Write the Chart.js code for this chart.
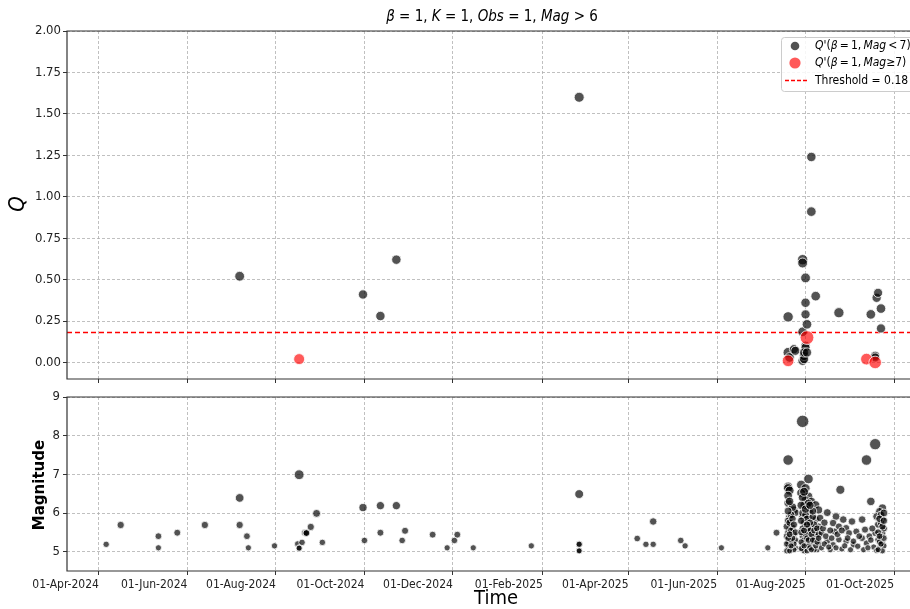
<!DOCTYPE html>
<html>
<head>
<meta charset="utf-8">
<script src="https://cdn.jsdelivr.net/npm/chart.js@4.4.1/dist/chart.umd.min.js"></script>
<style>
  html, body { margin: 0; padding: 0; background: #fff; }
  #wrap { position: relative; width: 910px; height: 609px; overflow: hidden; background: #fff; }
  canvas { position: absolute; left: 0; }
  #qChart { top: 0; }
  #magChart { top: 385px; }
</style>
</head>
<body>
<div id="wrap">
  <canvas id="qChart" width="910" height="385"></canvas>
  <canvas id="magChart" width="910" height="224"></canvas>
</div>
<script>
// ---- data ----
const tickDates = ['2024-04-01', '2024-06-01', '2024-08-01', '2024-10-01', '2024-12-01',
                   '2025-02-01', '2025-04-01', '2025-06-01', '2025-08-01', '2025-10-01'];
const qTicks = [0, 0.25, 0.5, 0.75, 1.0, 1.25, 1.5, 1.75, 2.0];
const magTicks = [5, 6, 7, 8, 9];
const threshold = 0.18;

// [date, Q, magnitude]  events with Mag < 7
const qLow = [
  ['2024-07-07', 0.52, 6.39], ['2024-09-30', 0.41, 6.14], ['2024-10-12', 0.28, 6.19],
  ['2024-10-23', 0.62, 6.19], ['2025-02-26', 1.60, 6.49],
  ['2025-07-20', 0.275, 6.66], ['2025-07-20', 0.06, 6.56], ['2025-07-21', 0.03, 6.30],
  ['2025-07-24', 0.08, 6.10], ['2025-07-25', 0.07, 6.05],
  ['2025-07-30', 0.62, 6.66], ['2025-07-30', 0.60, 6.44], ['2025-07-30', 0.185, 6.30],
  ['2025-07-30', 0.01, 6.20], ['2025-07-31', 0.04, 6.25], ['2025-07-31', 0.02, 6.10],
  ['2025-08-01', 0.10, 6.10], ['2025-08-01', 0.09, 6.00], ['2025-07-31', 0.06, 6.05],
  ['2025-08-01', 0.36, 6.20], ['2025-08-01', 0.29, 6.10], ['2025-08-01', 0.51, 6.40],
  ['2025-08-02', 0.23, 6.30], ['2025-08-02', 0.06, 6.10],
  ['2025-08-05', 1.24, 6.20], ['2025-08-05', 0.91, 6.30], ['2025-08-08', 0.40, 6.30],
  ['2025-08-24', 0.30, 6.60], ['2025-09-15', 0.29, 6.30],
  ['2025-09-18', 0.04, 6.10], ['2025-09-18', 0.03, 6.00],
  ['2025-09-19', 0.39, 6.13], ['2025-09-20', 0.42, 6.04],
  ['2025-09-22', 0.325, 6.28], ['2025-09-22', 0.205, 6.10]
];
// events with Mag >= 7
const qHigh = [
  ['2024-08-17', 0.02, 7.00], ['2025-07-20', 0.01, 7.37], ['2025-08-02', 0.15, 8.37],
  ['2025-09-12', 0.02, 7.37], ['2025-09-18', 0.00, 7.78]
];

// [date, magnitude]
const magEvents = [
  ['2024-04-06', 5.19], ['2024-04-16', 5.69], ['2024-05-12', 5.40], ['2024-05-12', 5.10],
  ['2024-05-25', 5.49], ['2024-06-13', 5.69], ['2024-07-07', 6.39], ['2024-07-07', 5.69],
  ['2024-07-12', 5.40], ['2024-07-13', 5.10], ['2024-07-31', 5.15],
  ['2024-08-17', 6.99], ['2024-08-16', 5.20], ['2024-08-19', 5.24],
  ['2024-08-17', 5.10], ['2024-08-17', 5.09], ['2024-08-21', 5.49],
  ['2024-08-22', 5.49], ['2024-08-22', 5.48], ['2024-08-25', 5.64], ['2024-08-29', 5.99],
  ['2024-09-02', 5.24], ['2024-09-30', 6.14], ['2024-10-01', 5.29], ['2024-10-12', 6.19],
  ['2024-10-12', 5.49], ['2024-10-23', 6.19], ['2024-10-27', 5.29], ['2024-10-29', 5.54],
  ['2024-11-17', 5.44], ['2024-11-27', 5.10], ['2024-12-02', 5.29], ['2024-12-04', 5.44],
  ['2024-12-15', 5.10], ['2025-01-24', 5.15], ['2025-02-26', 6.49],
  ['2025-02-26', 5.20], ['2025-02-26', 5.19], ['2025-02-26', 5.03], ['2025-02-26', 5.02],
  ['2025-04-07', 5.34], ['2025-04-13', 5.19], ['2025-04-18', 5.78], ['2025-04-18', 5.19],
  ['2025-05-07', 5.29], ['2025-05-10', 5.15], ['2025-06-04', 5.10], ['2025-07-06', 5.10],
  ['2025-07-12', 5.49],
  // late-July burst
  ['2025-07-20', 7.37], ['2025-07-30', 8.37], ['2025-08-03', 6.88], ['2025-08-25', 6.60],
  ['2025-09-12', 7.37], ['2025-09-18', 7.78], ['2025-09-15', 6.30],
  ['2025-07-20', 6.68], ['2025-07-20', 6.64], ['2025-07-21', 6.58], ['2025-07-20', 6.26],
  ['2025-07-24', 6.08], ['2025-07-25', 6.01], ['2025-07-21', 5.91], ['2025-07-22', 5.74],
  ['2025-07-21', 5.59], ['2025-07-24', 5.44], ['2025-07-21', 5.35], ['2025-07-24', 5.27],
  ['2025-07-21', 5.18], ['2025-07-25', 5.10], ['2025-07-22', 5.05],
  ['2025-07-20', 5.80], ['2025-07-20', 5.50], ['2025-07-20', 5.25], ['2025-07-20', 5.12],
  ['2025-07-19', 5.02], ['2025-07-22', 5.45], ['2025-07-23', 5.15], ['2025-07-23', 5.62],
  ['2025-07-24', 5.05], ['2025-07-25', 5.30], ['2025-07-22', 5.95], ['2025-07-23', 6.15],
  ['2025-07-20', 6.05], ['2025-07-21', 5.02], ['2025-07-24', 5.20],
  ['2025-07-19', 5.40], ['2025-07-19', 5.65], ['2025-07-19', 5.20], ['2025-07-20', 6.45],
  ['2025-07-21', 6.30], ['2025-07-21', 5.75], ['2025-07-22', 5.30], ['2025-07-22', 5.55],
  ['2025-07-23', 5.35], ['2025-07-23', 5.85], ['2025-07-24', 5.70], ['2025-07-25', 5.50],
  ['2025-07-20', 5.35], ['2025-07-21', 5.45], ['2025-07-22', 5.15],
  ['2025-07-29', 6.73], ['2025-08-01', 6.64], ['2025-07-29', 6.52], ['2025-08-03', 6.43],
  ['2025-08-01', 6.34], ['2025-08-05', 6.30], ['2025-08-08', 6.21], ['2025-08-02', 6.17],
  ['2025-08-10', 6.08], ['2025-08-04', 6.01], ['2025-07-30', 5.91], ['2025-08-03', 5.87],
  ['2025-08-08', 5.83], ['2025-08-01', 5.70], ['2025-08-05', 5.67], ['2025-08-10', 5.65],
  ['2025-08-02', 5.52], ['2025-08-06', 5.48], ['2025-07-30', 5.40], ['2025-08-04', 5.35],
  ['2025-08-09', 5.40], ['2025-08-01', 5.24], ['2025-08-05', 5.22], ['2025-08-10', 5.21],
  ['2025-08-02', 5.12], ['2025-08-06', 5.10], ['2025-07-30', 5.05], ['2025-08-09', 5.05],
  ['2025-07-30', 6.40], ['2025-07-31', 6.20], ['2025-07-30', 6.00], ['2025-07-31', 5.75],
  ['2025-07-30', 5.60], ['2025-07-31', 5.30], ['2025-07-30', 5.18], ['2025-07-31', 5.02],
  ['2025-08-01', 5.95], ['2025-08-02', 5.85], ['2025-08-03', 5.60], ['2025-08-03', 5.15],
  ['2025-08-04', 5.55], ['2025-08-06', 5.90], ['2025-08-07', 5.30], ['2025-08-07', 5.05],
  ['2025-08-07', 5.70], ['2025-08-08', 5.45], ['2025-08-08', 5.15], ['2025-08-04', 5.75],
  ['2025-08-01', 5.45], ['2025-08-02', 5.02], ['2025-08-06', 6.05], ['2025-08-03', 6.25],
  ['2025-07-29', 6.20], ['2025-07-29', 5.80], ['2025-07-29', 5.50], ['2025-07-29', 5.25],
  ['2025-07-29', 5.08], ['2025-07-31', 6.55], ['2025-07-31', 5.55], ['2025-07-31', 5.15],
  ['2025-08-01', 6.10], ['2025-08-02', 5.70], ['2025-08-02', 5.35], ['2025-08-03', 5.30],
  ['2025-08-04', 5.10], ['2025-08-04', 6.20], ['2025-08-05', 5.45], ['2025-08-05', 5.05],
  ['2025-08-06', 5.30], ['2025-08-07', 5.55], ['2025-08-09', 5.25], ['2025-08-09', 5.60],
  ['2025-08-10', 5.45],
  ['2025-08-16', 6.01], ['2025-08-11', 5.87], ['2025-08-22', 5.91], ['2025-08-20', 5.74],
  ['2025-08-27', 5.83], ['2025-09-02', 5.78], ['2025-08-24', 5.65], ['2025-08-29', 5.61],
  ['2025-08-21', 5.52], ['2025-08-31', 5.48], ['2025-08-12', 5.48], ['2025-08-10', 5.35],
  ['2025-08-16', 5.27], ['2025-08-24', 5.31], ['2025-08-29', 5.27], ['2025-08-20', 5.18],
  ['2025-09-03', 5.18], ['2025-08-12', 5.10], ['2025-08-18', 5.05], ['2025-08-26', 5.07],
  ['2025-09-01', 5.05],
  ['2025-08-13', 5.60], ['2025-08-14', 5.20], ['2025-08-15', 5.40], ['2025-08-17', 5.12],
  ['2025-08-19', 5.35], ['2025-08-22', 5.10], ['2025-08-23', 5.45], ['2025-08-26', 5.55],
  ['2025-08-28', 5.15], ['2025-08-30', 5.35], ['2025-08-14', 5.75], ['2025-08-18', 5.55],
  ['2025-09-23', 6.13], ['2025-09-21', 6.04], ['2025-09-19', 5.91], ['2025-09-09', 5.83],
  ['2025-09-23', 5.83], ['2025-09-20', 5.70], ['2025-09-11', 5.57], ['2025-09-05', 5.52],
  ['2025-09-18', 5.48], ['2025-09-23', 5.48], ['2025-09-14', 5.40], ['2025-09-09', 5.35],
  ['2025-09-20', 5.31], ['2025-09-03', 5.27], ['2025-09-12', 5.22], ['2025-09-23', 5.22],
  ['2025-09-06', 5.14], ['2025-09-17', 5.12], ['2025-09-21', 5.10], ['2025-09-10', 5.05],
  ['2025-09-19', 5.03],
  ['2025-09-22', 5.95], ['2025-09-24', 5.60], ['2025-09-22', 5.40], ['2025-09-24', 5.15],
  ['2025-09-21', 5.25], ['2025-09-23', 5.02], ['2025-09-22', 5.75], ['2025-09-24', 6.00],
  ['2025-09-07', 5.40], ['2025-09-13', 5.10], ['2025-09-15', 5.30], ['2025-09-16', 5.60],
  ['2025-09-20', 5.50], ['2025-09-21', 5.85], ['2025-09-22', 5.20], ['2025-09-23', 5.65],
  ['2025-09-24', 5.35], ['2025-09-20', 5.05], ['2025-09-24', 5.80], ['2025-09-21', 5.40]
];

const xMin = Date.parse('2024-03-10');
const xMax = Date.parse('2025-10-12');

// ---- styling ----
const FONT = '"DejaVu Sans Condensed", "DejaVu Sans", sans-serif';
const MONTHS = ['Jan','Feb','Mar','Apr','May','Jun','Jul','Aug','Sep','Oct','Nov','Dec'];
const grayFill = 'rgba(0,0,0,0.68)';
const redFill = 'rgba(255,0,0,0.65)';
const TS = '\u2009'; // thin space for mathtext-like spacing

function fmtDate(v) {
  const d = new Date(v);
  return String(d.getUTCDate()).padStart(2, '0') + '-' + MONTHS[d.getUTCMonth()] + '-' + d.getUTCFullYear();
}
const rTop = m => 3.5 + (m - 5) * 1.0;
const rBot = m => 3.0 + (m - 5) * 0.95;

const gridOpts = { color: '#b0b0b0', lineWidth: 0.8, tickColor: '#333', tickLength: 4, tickWidth: 1 };
const borderOpts = { display: false, dash: [3, 2] };

// y axis with fixed width and no extra label padding above/below the plot
const fixY = s => { s.width = 67; s.paddingTop = 0; s.paddingBottom = 0; };

const framePlugin = {
  id: 'frame',
  afterDraw(chart) {
    const { ctx, chartArea: a } = chart;
    ctx.save();
    ctx.strokeStyle = '#333';
    ctx.lineWidth = 1.2;
    ctx.beginPath();
    ctx.moveTo(a.right, a.top);
    ctx.lineTo(a.left, a.top);
    ctx.lineTo(a.left, a.bottom);
    ctx.lineTo(a.right, a.bottom);
    ctx.stroke();
    ctx.restore();
  }
};

// draws text made of [string, italic] pieces
function drawRich(ctx, parts, x, y, size, align) {
  const fontOf = it => (it ? 'italic ' : '') + size + 'px ' + FONT;
  let total = 0;
  parts.forEach(([t, it]) => { ctx.font = fontOf(it); total += ctx.measureText(t).width; });
  let cx = align === 'center' ? x - total / 2 : x;
  ctx.textAlign = 'left';
  ctx.textBaseline = 'middle';
  parts.forEach(([t, it]) => {
    ctx.font = fontOf(it);
    ctx.fillText(t, cx, y);
    cx += ctx.measureText(t).width;
  });
}

const topDecor = {
  id: 'topDecor',
  afterDraw(chart) {
    const ctx = chart.ctx;
    ctx.save();
    ctx.fillStyle = '#000';
    drawRich(ctx, [['β', 1], [' = 1, ', 0], ['K', 1], [' = 1, ', 0], ['Obs', 1], [' = 1, ', 0], ['Mag', 1], [' > 6', 0]], 492, 17, 15, 'center');

    // y title
    ctx.save();
    ctx.translate(18, 204);
    ctx.rotate(-Math.PI / 2);
    ctx.font = 'italic 22px ' + FONT;
    ctx.textAlign = 'center';
    ctx.textBaseline = 'middle';
    ctx.fillText('Q', 0, 0);
    ctx.restore();

    // legend
    const bx = 781, by = 37, bw = 140, bh = 54;
    ctx.fillStyle = 'rgba(255,255,255,0.85)';
    ctx.strokeStyle = '#cccccc';
    ctx.lineWidth = 1;
    ctx.beginPath();
    ctx.roundRect(bx + 0.5, by + 0.5, bw, bh, 3);
    ctx.fill();
    ctx.stroke();

    ctx.fillStyle = grayFill;
    ctx.beginPath(); ctx.arc(795, 46, 4.3, 0, Math.PI * 2); ctx.fill();
    ctx.fillStyle = redFill;
    ctx.beginPath(); ctx.arc(795, 63, 5.6, 0, Math.PI * 2); ctx.fill();
    ctx.strokeStyle = 'red';
    ctx.lineWidth = 1.5;
    ctx.setLineDash([4, 2]);
    ctx.beginPath(); ctx.moveTo(785, 80.5); ctx.lineTo(807, 80.5); ctx.stroke();
    ctx.setLineDash([]);

    ctx.fillStyle = '#000';
    drawRich(ctx, [['Q', 1], ["'(", 0], ['β', 1], [TS + '=' + TS + '1,' + TS, 0], ['Mag', 1], [TS + '<' + TS + '7)', 0]], 815, 46, 12, 'left');
    drawRich(ctx, [['Q', 1], ["'(", 0], ['β', 1], [TS + '=' + TS + '1,' + TS, 0], ['Mag', 1], ['≥7)', 0]], 815, 63, 12, 'left');
    drawRich(ctx, [['Threshold = 0.18', 0]], 815, 80.5, 12, 'left');
    ctx.restore();
  }
};

const bottomDecor = {
  id: 'bottomDecor',
  afterDraw(chart) {
    const ctx = chart.ctx;
    ctx.save();
    ctx.fillStyle = '#000';
    ctx.translate(40, 100);
    ctx.rotate(-Math.PI / 2);
    ctx.font = 'bold 15px "DejaVu Sans", sans-serif';
    ctx.textAlign = 'center';
    ctx.textBaseline = 'middle';
    ctx.fillText('Magnitude', 0, 0);
    ctx.restore();

    ctx.save();
    ctx.fillStyle = '#000';
    ctx.font = '20px ' + FONT;
    ctx.textAlign = 'center';
    ctx.textBaseline = 'middle';
    ctx.fillText('Time', 496, 214);
    ctx.restore();
  }
};

const dateTicks = s => { s.ticks = tickDates.map(d => ({ value: Date.parse(d) })); };

// ---- top panel: Q ----
new Chart(document.getElementById('qChart'), {
  type: 'scatter',
  data: {
    datasets: [
      {
        data: qHigh.map(([d, q, m]) => ({ x: Date.parse(d), y: q, m })),
        backgroundColor: redFill,
        borderColor: '#fff',
        borderWidth: 0.8,
        pointRadius: c => (c.raw ? rTop(c.raw.m) : 5),
        order: 0
      },
      {
        data: qLow.map(([d, q, m]) => ({ x: Date.parse(d), y: q, m })),
        backgroundColor: grayFill,
        borderColor: '#fff',
        borderWidth: 0.8,
        pointRadius: c => (c.raw ? rTop(c.raw.m) : 5),
        order: 1
      },
      {
        data: [{ x: xMin, y: threshold }, { x: xMax, y: threshold }],
        showLine: true,
        borderColor: 'red',
        borderWidth: 1.5,
        borderDash: [5, 3],
        pointRadius: 0,
        order: 2
      }
    ]
  },
  options: {
    responsive: false,
    animation: false,
    events: [],
    layout: { autoPadding: false, padding: { top: 31, right: 0, left: 0, bottom: 0 } },
    plugins: { legend: { display: false }, tooltip: { enabled: false } },
    scales: {
      x: {
        type: 'linear', min: xMin, max: xMax,
        afterBuildTicks: dateTicks,
        afterFit: s => { s.height = 6; },
        ticks: { display: false },
        grid: gridOpts,
        border: borderOpts
      },
      y: {
        min: -0.1, max: 2.0,
        afterBuildTicks: s => { s.ticks = qTicks.map(v => ({ value: v })); },
        afterFit: fixY,
        ticks: { callback: v => v.toFixed(2), color: '#222', padding: 2, font: { family: FONT, size: 13 } },
        grid: gridOpts,
        border: borderOpts
      }
    }
  },
  plugins: [framePlugin, topDecor]
});

// ---- bottom panel: magnitude ----
new Chart(document.getElementById('magChart'), {
  type: 'scatter',
  data: {
    datasets: [{
      data: magEvents.map(([d, m]) => ({ x: Date.parse(d), y: m, m })),
      backgroundColor: grayFill,
      borderColor: '#fff',
      borderWidth: 0.8,
      pointRadius: c => (c.raw ? rBot(c.raw.m) : 3)
    }]
  },
  options: {
    responsive: false,
    animation: false,
    events: [],
    layout: { autoPadding: false, padding: { top: 12, right: 0, left: 0, bottom: 0 } },
    plugins: { legend: { display: false }, tooltip: { enabled: false } },
    scales: {
      x: {
        type: 'linear', min: xMin, max: xMax,
        afterBuildTicks: dateTicks,
        afterFit: s => { s.height = 38; },
        ticks: { callback: fmtDate, align: 'end', maxRotation: 0, autoSkip: false, padding: 3, color: '#222', font: { family: FONT, size: 12 } },
        grid: gridOpts,
        border: borderOpts
      },
      y: {
        min: 4.5, max: 9,
        afterBuildTicks: s => { s.ticks = magTicks.map(v => ({ value: v })); },
        afterFit: fixY,
        ticks: { callback: v => String(v), color: '#222', padding: 3, font: { family: FONT, size: 13 } },
        grid: gridOpts,
        border: borderOpts
      }
    }
  },
  plugins: [framePlugin, bottomDecor]
});
</script>
</body>
</html>
